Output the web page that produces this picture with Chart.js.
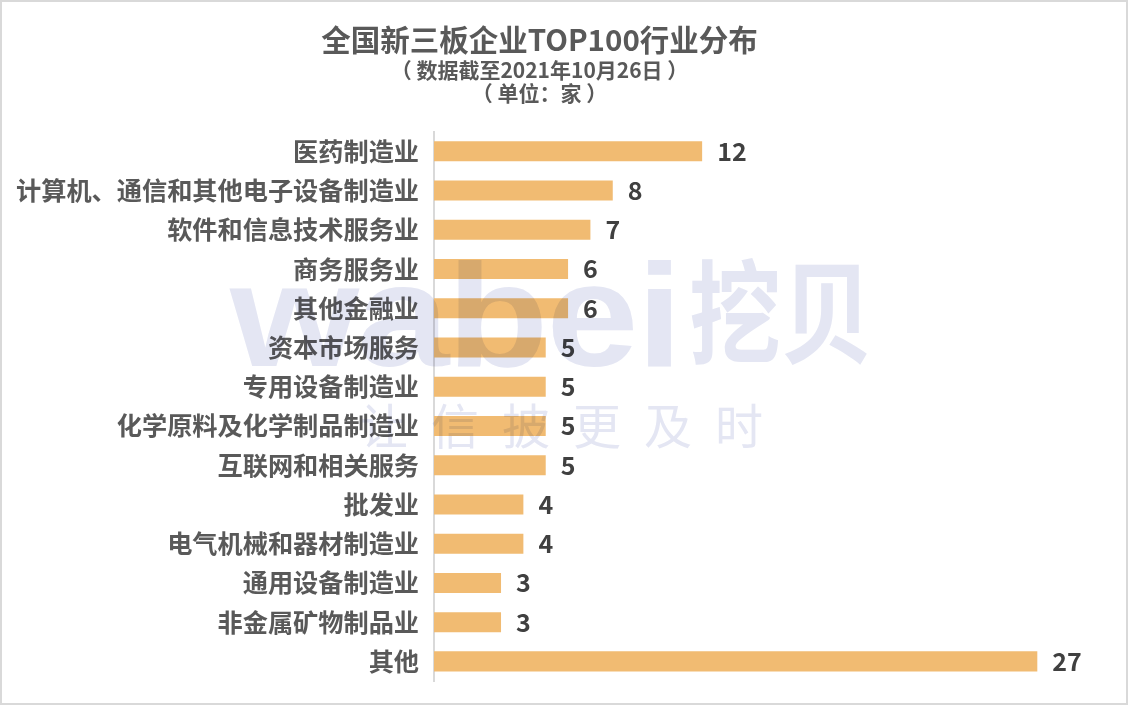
<!DOCTYPE html>
<html><head><meta charset="utf-8">
<script src="https://cdn.jsdelivr.net/npm/chart.js@4"></script>
<style>
html,body{margin:0;padding:0;background:#fff;overflow:hidden}
#wrap{position:relative;width:1128px;height:705px;overflow:hidden}
#frame{position:absolute;inset:0;border:2px solid #d9d9d9;box-sizing:border-box;pointer-events:none}
canvas{position:absolute;left:0;top:0}
.wm{position:absolute;color:#e4e6f3;mix-blend-mode:multiply;white-space:nowrap;pointer-events:none;transform-origin:0 0}
</style></head><body>
<div id="wrap">
<canvas id="c" width="1128" height="705"></canvas>
<div class="wm" style="left:230px;top:242px;font:bold 147px/1 'Liberation Sans',sans-serif;letter-spacing:-2px;transform:scaleX(1.13)">wabei</div>
<div class="wm" style="left:689px;top:250px;font:bold 92px/1 'Noto Sans CJK SC',sans-serif;transform:scaleY(1.22)">挖贝</div>
<div class="wm" style="left:360px;top:399px;font:48px/1 'Noto Sans CJK SC',sans-serif;letter-spacing:23px">让信披更及时</div>
<div id="frame"></div>
</div>
<script>
const titleText = '全国新三板企业TOP100行业分布';
const subtitleLines = ['（ 数据截至2021年10月26日 ）', '（ 单位：家 ）'];
const categories = ['医药制造业','计算机、通信和其他电子设备制造业','软件和信息技术服务业','商务服务业','其他金融业','资本市场服务','专用设备制造业','化学原料及化学制品制造业','互联网和相关服务','批发业','电气机械和器材制造业','通用设备制造业','非金属矿物制品业','其他'];
const values = [12,8,7,6,6,5,5,5,5,4,4,3,3,27];
const FONT = "'Noto Sans CJK SC','Noto Sans',sans-serif";

const valueLabels = {
  id:'valueLabels',
  afterDatasetsDraw(chart){
    const {ctx} = chart, meta = chart.getDatasetMeta(0);
    ctx.save();
    ctx.font = "bold 25px "+FONT;
    ctx.fillStyle = '#404040';
    ctx.textAlign = 'left';
    ctx.textBaseline = 'middle';
    meta.data.forEach((bar,i)=>ctx.fillText(String(values[i]), bar.x+15, bar.y));
    ctx.restore();
  }
};

new Chart(document.getElementById('c'),{
  type:'bar',
  data:{labels:categories,datasets:[{data:values,backgroundColor:'#f1bb72',categoryPercentage:1,barPercentage:0.51,borderWidth:0}]},
  options:{
    indexAxis:'y',responsive:false,animation:false,devicePixelRatio:1,
    layout:{padding:{top:0,left:-3,right:46,bottom:24}},
    plugins:{
      legend:{display:false},tooltip:{enabled:false},
      title:{display:true,text:titleText,color:'#595959',font:{family:FONT,size:29.5,weight:'bold',lineHeight:1.2},padding:{top:22,bottom:0}},
      subtitle:{display:true,text:subtitleLines,color:'#595959',font:{family:FONT,size:21,weight:'bold',lineHeight:1.1},padding:{top:1,bottom:27}}
    },
    scales:{
      x:{min:0,max:29,display:false},
      y:{
        afterFit(s){s.width=437;s.paddingTop=0;s.paddingBottom=0;},
        grid:{display:false,drawTicks:false},
        border:{color:'#d9d9d9',width:2},
        ticks:{color:'#595959',font:{family:FONT,size:25.2,weight:'bold'},padding:15,autoSkip:false}
      }
    }
  },
  plugins:[valueLabels]
});
</script>
</body></html>
